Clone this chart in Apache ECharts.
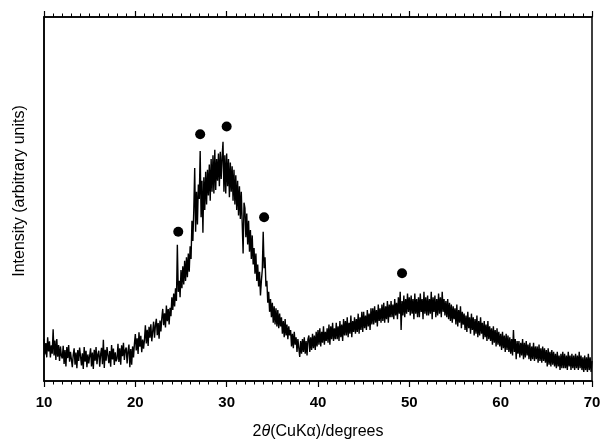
<!DOCTYPE html>
<html><head><meta charset="utf-8">
<script src="https://cdn.jsdelivr.net/npm/echarts@6/dist/echarts.min.js"></script>
<style>html,body{margin:0;padding:0;background:#fff}#c{width:604px;height:442px}</style>
</head><body><div id="c"></div>
<script>
// 2θ sampling: 10.0° to 70.0° every 0.1°
const angleStart = 10;
const angleStep = 0.1;
// Intensity (arbitrary units), one row per degree
const intensity10to20 = [
  11.5, 7.3, 10.4, 6.5, 12.0, 8.1, 10.9, 6.5, 9.8, 7.5,
  14.2, 7.0, 11.1, 5.8, 11.5, 6.7, 9.9, 5.5, 9.5, 6.9,
  6.2, 9.7, 4.7, 8.5, 4.0, 9.3, 6.3, 9.9, 5.3, 8.0,
  8.2, 3.8, 7.2, 9.0, 4.5, 7.8, 3.5, 8.5, 5.5, 9.2,
  8.8, 4.3, 7.6, 3.3, 9.3, 5.3, 8.3, 3.8, 7.3, 4.8,
  5.0, 9.0, 4.0, 7.8, 3.3, 8.6, 5.6, 9.3, 4.6, 7.3,
  8.3, 3.9, 7.3, 9.1, 4.6, 11.3, 3.6, 8.6, 5.6, 9.3,
  9.4, 4.9, 8.2, 3.9, 9.9, 5.9, 8.9, 4.4, 7.9, 5.4,
  6.2, 10.2, 5.2, 9.0, 4.5, 9.8, 6.8, 10.5, 5.8, 8.5,
  9.2, 4.8, 8.2, 10.0, 3.8, 8.8, 4.5, 9.5, 6.5, 10.2
];
const intensity20to30 = [
  12.9, 8.4, 11.7, 7.4, 13.4, 9.4, 12.4, 7.9, 11.4, 8.9,
  11.3, 15.3, 10.3, 14.1, 9.6, 14.9, 11.9, 15.6, 10.9, 13.6,
  16.3, 11.9, 15.3, 17.1, 12.6, 15.9, 11.6, 16.6, 13.6, 17.3,
  19.8, 15.3, 18.6, 14.7, 20.7, 16.4, 19.8, 15.5, 20.1, 17.8,
  23.0, 19.5, 24.0, 20.5, 25.5, 22.0, 37.4, 24.5, 27.5, 23.0,
  30.5, 25.5, 31.5, 26.5, 33.0, 27.5, 34.0, 28.5, 35.0, 30.0,
  37.0, 33.5, 44.0, 38.5, 47.0, 58.5, 41.0, 52.0, 43.0, 54.0,
  50.0, 63.2, 45.0, 55.0, 40.7, 56.0, 47.0, 57.5, 48.5, 58.0,
  51.0, 59.5, 49.5, 61.0, 52.0, 62.0, 51.5, 63.5, 52.5, 61.0,
  55.0, 62.5, 53.5, 63.0, 55.5, 61.5, 65.7, 52.0, 62.0, 51.5
];
const intensity30to40 = [
  62.5, 53.5, 61.0, 50.5, 60.0, 52.0, 59.0, 49.5, 58.0, 48.5,
  56.5, 47.0, 55.0, 45.5, 53.5, 44.5, 52.0, 43.5, 35.0, 49.0,
  47.5, 39.5, 46.0, 37.5, 44.0, 35.5, 41.5, 33.5, 40.0, 32.0,
  36.5, 29.5, 35.0, 27.5, 32.0, 26.0, 30.0, 23.5, 27.5, 30.5,
  41.0, 31.0, 34.0, 26.0, 27.5, 21.5, 24.5, 19.0, 22.5, 17.5,
  21.5, 16.0, 20.5, 15.5, 20.0, 15.0, 19.5, 14.5, 18.5, 15.0,
  17.5, 13.0, 16.5, 12.0, 17.0, 12.5, 15.5, 11.5, 15.0, 12.5,
  14.0, 9.5, 13.0, 9.0, 13.5, 10.0, 12.0, 8.0, 11.5, 9.0,
  6.6, 11.0, 7.5, 11.5, 8.0, 12.0, 7.5, 11.0, 7.0, 11.5,
  12.5, 8.0, 12.0, 8.5, 13.0, 9.0, 12.5, 8.5, 13.5, 9.5
];
const intensity40to50 = [
  14.0, 10.0, 14.5, 9.5, 13.5, 10.5, 15.0, 10.0, 13.5, 11.0,
  14.5, 10.5, 15.5, 10.0, 15.0, 11.5, 16.0, 11.0, 14.5, 11.5,
  16.0, 11.5, 15.0, 11.0, 16.5, 12.0, 15.5, 11.0, 17.0, 12.5,
  16.5, 12.5, 17.5, 12.0, 16.0, 13.0, 18.0, 12.0, 16.5, 13.5,
  17.5, 13.0, 17.0, 13.5, 18.5, 13.0, 17.5, 14.0, 19.0, 13.5,
  19.0, 14.5, 18.0, 14.0, 19.5, 15.0, 18.5, 14.0, 20.0, 15.5,
  20.0, 15.5, 20.5, 16.0, 19.5, 15.0, 21.0, 16.5, 20.0, 16.0,
  21.0, 16.5, 21.5, 16.0, 20.5, 17.0, 22.0, 16.0, 21.0, 17.5,
  22.0, 17.5, 21.0, 17.0, 22.5, 18.0, 21.5, 17.0, 23.0, 18.5,
  24.5, 14.0, 22.0, 18.0, 23.5, 17.5, 22.5, 18.5, 24.0, 19.0
];
const intensity50to60 = [
  23.0, 18.0, 23.5, 18.5, 22.5, 17.0, 24.0, 18.5, 22.5, 17.5,
  23.0, 17.5, 24.0, 19.0, 22.5, 17.0, 24.5, 18.5, 23.0, 18.0,
  23.5, 18.0, 22.5, 18.5, 24.5, 17.0, 23.0, 19.0, 23.5, 17.5,
  22.5, 18.0, 24.0, 18.5, 23.0, 17.5, 24.5, 19.0, 22.5, 18.0,
  22.0, 17.5, 22.5, 17.0, 21.5, 16.5, 21.0, 16.0, 20.5, 17.0,
  20.0, 15.5, 21.0, 15.0, 19.5, 16.0, 20.5, 14.5, 19.0, 15.5,
  18.5, 14.0, 18.0, 13.5, 19.0, 14.5, 17.5, 13.0, 18.5, 14.0,
  17.5, 12.5, 17.0, 13.0, 18.0, 12.0, 16.5, 12.5, 17.5, 13.0,
  16.0, 11.5, 16.5, 12.0, 15.5, 11.0, 16.5, 11.5, 15.0, 11.0,
  14.5, 10.0, 15.0, 10.5, 14.0, 9.5, 14.5, 10.0, 13.5, 9.5
];
const intensity60to70 = [
  13.0, 8.5, 13.5, 9.0, 12.5, 8.0, 13.0, 8.5, 12.5, 8.0,
  12.0, 7.5, 11.5, 7.0, 14.0, 8.0, 11.5, 6.0, 11.0, 7.5,
  11.0, 6.5, 10.5, 7.0, 11.5, 6.0, 10.5, 6.5, 11.0, 7.0,
  10.0, 6.0, 10.5, 5.5, 9.5, 6.0, 10.5, 5.5, 9.5, 6.0,
  9.5, 5.0, 10.0, 5.5, 9.0, 5.0, 9.5, 5.5, 9.0, 5.0,
  8.5, 4.0, 9.0, 4.5, 8.0, 4.0, 8.5, 4.5, 8.0, 4.0,
  7.5, 3.5, 8.0, 4.0, 7.0, 3.0, 7.5, 3.5, 8.0, 3.5,
  7.5, 3.5, 7.0, 3.0, 8.0, 4.0, 7.0, 3.0, 7.5, 3.5,
  7.0, 3.0, 7.5, 3.5, 7.0, 3.0, 8.0, 3.5, 7.0, 3.0,
  6.5, 2.5, 7.0, 3.0, 6.5, 2.5, 7.5, 3.0, 6.5, 2.5,
  5.5
];
// Marked reflections (•)
const markAngles = [24.7, 27.1, 30.0, 34.1, 49.2];
const markIntensity = [41.0, 67.8, 69.9, 45.0, 29.6];
// Axis ticks
const xMin = 10, xMax = 70, xInterval = 10;
const yMin = 0, yMax = 100;

const intensity = [].concat(intensity10to20, intensity20to30, intensity30to40,
  intensity40to50, intensity50to60, intensity60to70);
const traceData = intensity.map((v, i) => [+(angleStart + i * angleStep).toFixed(1), v]);
const markData = markAngles.map((a, i) => [a, markIntensity[i]]);

const font = "'Liberation Sans', Arial, Helvetica, sans-serif";
const chart = echarts.init(document.getElementById('c'), null, {renderer: 'canvas'});
const xCommon = {
  type: 'value', min: xMin, max: xMax, interval: xInterval,
  splitLine: {show: false},
  axisLine: {show: true, lineStyle: {color: '#000', width: 1.5}},
  axisTick: {show: true, inside: false, length: 6, lineStyle: {color: '#000', width: 1.2}},
  minorTick: {show: true, splitNumber: 10, length: 3.5, lineStyle: {color: '#000', width: 1}},
  minorSplitLine: {show: false}
};
chart.setOption({
  animation: false,
  backgroundColor: '#fff',
  grid: {left: 44, right: 12, top: 17, bottom: 61, show: true, borderColor: '#000', borderWidth: 1.5,
         backgroundColor: 'transparent', outerBoundsMode: 'none', containLabel: false},
  xAxis: [
    Object.assign({}, xCommon, {
      position: 'bottom',
      axisLabel: {show: true, margin: 14, color: '#000', fontSize: 15, fontWeight: 'bold', fontFamily: font},
      name: '2{i|θ}(CuKα)/degrees',
      nameLocation: 'middle', nameGap: 43,
      nameTextStyle: {color: '#000', fontSize: 16, fontFamily: font,
        rich: {i: {fontStyle: 'italic', fontSize: 16, fontFamily: font, color: '#000'}}}
    }),
    Object.assign({}, xCommon, {position: 'top', axisLabel: {show: false}})
  ],
  yAxis: {
    type: 'value', min: yMin, max: yMax,
    axisLine: {show: true, lineStyle: {color: '#000', width: 1.5}},
    axisTick: {show: false}, axisLabel: {show: false}, splitLine: {show: false},
    name: 'Intensity (arbitrary units)', nameLocation: 'middle', nameGap: 16,
    nameTextStyle: {color: '#000', fontSize: 16, fontFamily: font, padding: [0, 0, 0, 16]}
  },
  series: [
    {type: 'line', data: traceData, showSymbol: false, symbol: 'none', sampling: null,
     lineStyle: {color: '#000', width: 1.4}, silent: true},
    {type: 'scatter', data: markData, symbol: 'circle', symbolSize: 10,
     itemStyle: {color: '#000', opacity: 1}, silent: true}
  ]
});
</script></body></html>
